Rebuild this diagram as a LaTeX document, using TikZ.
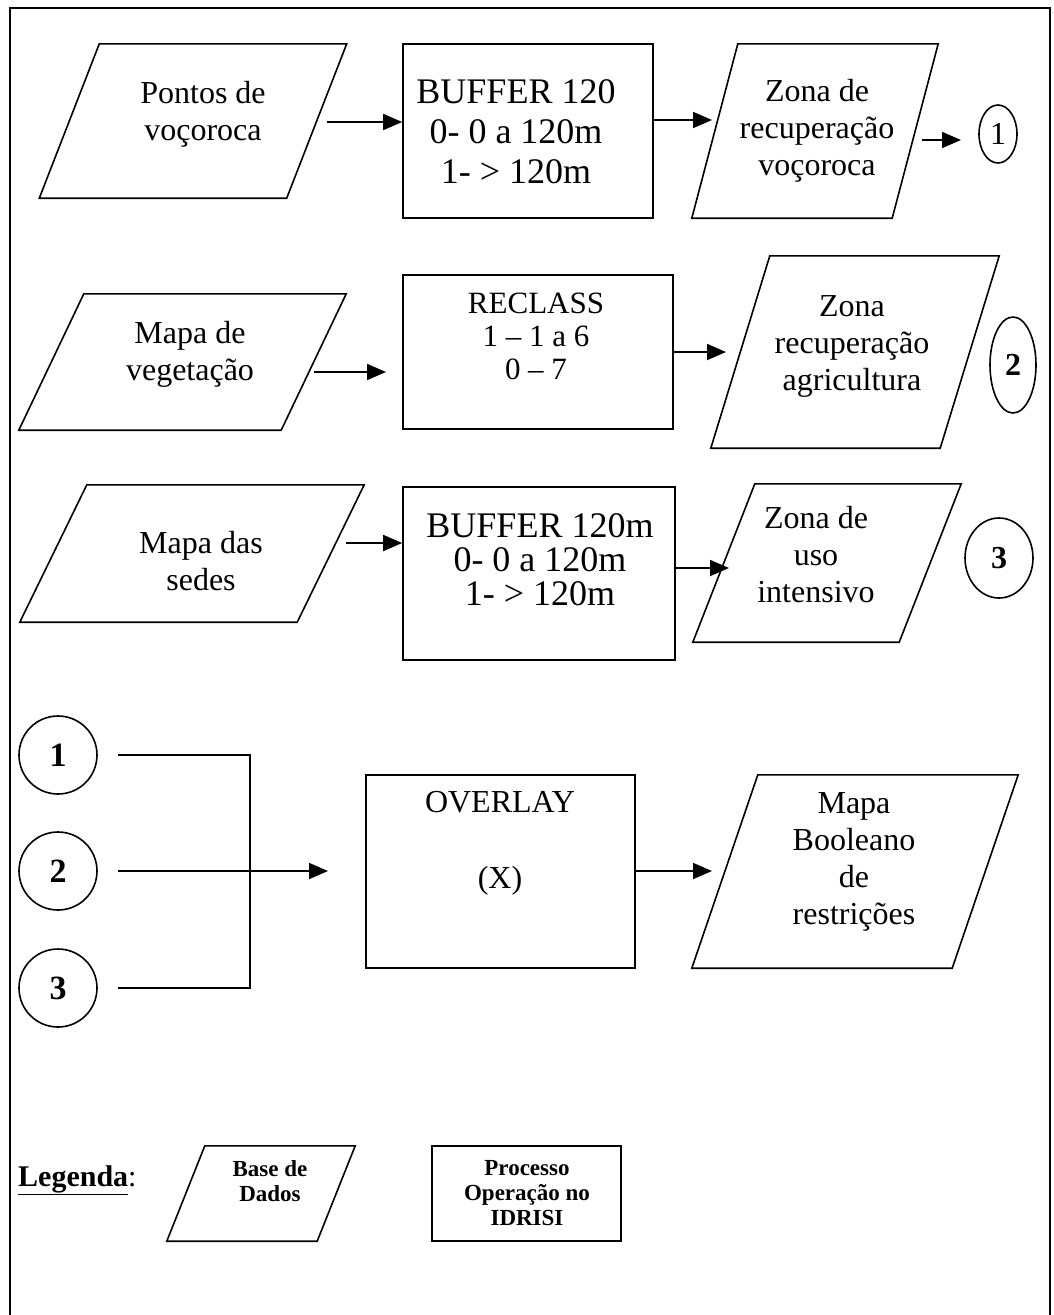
\documentclass[tikz,border=0pt]{standalone}
\usepackage{fontspec}
\setmainfont{Liberation Serif}
\usepackage{tikz}
\usetikzlibrary{arrows.meta,positioning,calc,shapes.geometric}
\tikzset{
  moldura/.style={line width=2.4pt},
  caixa/.style={draw,line width=1.6pt,inner sep=0pt},
  forma/.style={inner sep=0pt},
  texto/.style={align=center,inner sep=0pt,font=\fontsize{32}{37}\selectfont},
  legtexto/.style={align=center,inner sep=0pt,font=\bfseries\fontsize{23}{25}\selectfont},
  marca/.style={draw,ellipse,line width=1.6pt,inner sep=0pt,font=\fontsize{32}{37}\selectfont},
  seta/.style={-{Triangle[length=19pt,width=16pt]},line width=1.8pt},
  linha/.style={line width=1.8pt},
}
% parallelogram (base de dados) round an invisible node
\newcommand{\paralelo}[2]{%
  \draw[line width=1.6pt] ([xshift=-#2]#1.south west) -- ([xshift=#2]#1.north west)
    -- ([xshift=#2]#1.north east) -- ([xshift=-#2]#1.south east) -- cycle;}

\begin{document}
\begin{tikzpicture}[x=1pt,y=-1pt]
        \useasboundingbox (0,0) rectangle (1053,1315);
        % moldura
        \draw[moldura] (10,1315) -- (10,8) -- (1050,8) -- (1050,1315);
        % linha 1: vocorocas
        \node[forma,minimum width=247,minimum height=154] (p1) at (193,121) {};
        \paralelo{p1}{30}
        \node[texto] (p1t) at (203,114) {Pontos de\\voçoroca};
        \node[caixa,minimum width=250,minimum height=174] (b1) at (528,131) {};
        \node[texto,font=\fontsize{36}{40}\selectfont] (b1t) at (516,132) {BUFFER 120\\0- 0 a 120m\\1- > 120m};
        \node[forma,minimum width=200,minimum height=174] (p2) at (815,131) {};
        \paralelo{p2}{23}
        \node[texto] (p2t) at (817,131) {Zona de\\recuperação\\voçoroca};
        \node[marca,minimum width=38,minimum height=58] (c1) at (998,134) {1};
        \coordinate (s1) at (327,122);
        \draw[seta] (s1) -- (s1 -| b1.west);
        \coordinate (t2) at (712,120);
        \draw[seta] (b1.east |- t2) -- (t2);
        \coordinate (s3) at (922,140);
        \coordinate (t3) at (961,140);
        \draw[seta] (s3) -- (t3);
        % linha 2: vegetacao
        \node[forma,minimum width=262,minimum height=136] (p3) at (182.5,362) {};
        \paralelo{p3}{32.5}
        \node[texto] (p3t) at (190,354) {Mapa de\\vegetação};
        \node[caixa,minimum width=270,minimum height=154] (b2) at (538,352) {};
        \node[texto,font=\fontsize{31}{33}\selectfont] (b2t) at (536,336) {RECLASS\\1 – 1 a 6\\0 – 7};
        \node[forma,minimum width=229,minimum height=192] (p4) at (855,352) {};
        \paralelo{p4}{29.5}
        \node[texto] (p4t) at (852,346) {Zona\\recuperação\\agricultura};
        \node[marca,minimum width=46,minimum height=96,font=\bfseries\fontsize{32}{37}\selectfont] (c2) at (1013,365) {2};
        \coordinate (t4) at (386,372);
        \draw[seta] (p3.east |- t4) -- (t4);
        \coordinate (t5) at (726,352);
        \draw[seta] (b2.east |- t5) -- (t5);
        % linha 3: sedes
        \node[forma,minimum width=277,minimum height=137] (p5) at (192,553.5) {};
        \paralelo{p5}{33.5}
        \node[texto] (p5t) at (201,561) {Mapa das\\sedes};
        \node[caixa,minimum width=272,minimum height=173] (b3) at (539,573.5) {};
        \node[texto,font=\fontsize{36}{34}\selectfont] (b3t) at (540,560) {BUFFER 120m\\0- 0 a 120m\\1- > 120m};
        \node[forma,minimum width=206,minimum height=158] (p6) at (827,563) {};
        \paralelo{p6}{31}
        \node[texto] (p6t) at (816,555) {Zona de\\uso\\intensivo};
        \node[marca,minimum width=68,minimum height=80,font=\bfseries\fontsize{32}{37}\selectfont] (c3) at (999,558) {3};
        \coordinate (s6) at (346,543);
        \draw[seta] (s6) -- (s6 -| b3.west);
        \coordinate (t7) at (729,568);
        \draw[seta] (b3.east |- t7) -- (t7);
        % linha 4: overlay
        \foreach \n/\y in {1/755,2/871,3/988}
          \node[marca,minimum size=78,font=\bfseries\fontsize{34}{37}\selectfont] (k\n) at (58,\y) {\n};
        \coordinate (jun) at (250,871);
        \draw[linha] ([xshift=20]k1.east) -| (jun) |- ([xshift=20]k3.east);
        \coordinate (t8) at (328,871);
        \draw[seta] ([xshift=20]k2.east) -- (t8);
        \node[caixa,minimum width=269,minimum height=193] (b4) at (500.5,871.5) {};
        \node[texto] (b4t) at (500,843) {OVERLAY\\[2pt]\\(X)};
        \node[forma,minimum width=260,minimum height=193] (p7) at (855,871.5) {};
        \paralelo{p7}{33}
        \node[texto] (p7t) at (854,862) {Mapa\\Booleano\\de\\restrições};
        \coordinate (t9) at (712,871);
        \draw[seta] (b4.east |- t9) -- (t9);
        % legenda
        \node[anchor=west,inner sep=0pt,font=\fontsize{30}{34}\selectfont] (leg) at (18,1180) {\textbf{\underline{Legenda}}:};
        \node[forma,minimum width=150,minimum height=95] (p8) at (261,1193.5) {};
        \paralelo{p8}{19}
        \node[legtexto] (p8t) at (270,1181) {Base de\\Dados};
        \node[caixa,minimum width=189,minimum height=95] (b5) at (526.5,1193.5) {};
        \node[legtexto] (b5t) at (527,1193) {Processo\\Operação no\\IDRISI};
\end{tikzpicture}
\end{document}
